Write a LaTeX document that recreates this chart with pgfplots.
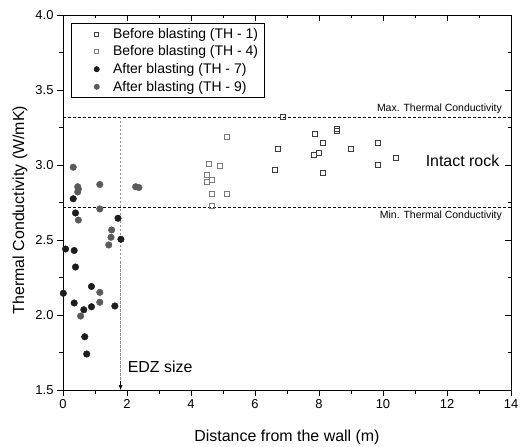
\documentclass[border=0pt]{standalone}
\usepackage{fontspec}
\setmainfont{Liberation Sans}
\usepackage{pgfplots}
\pgfplotsset{compat=1.18}
\usetikzlibrary{arrows.meta}

\definecolor{thone}{HTML}{3C3C3C}
\definecolor{thfour}{HTML}{7A7A7A}
\definecolor{thseven}{HTML}{1C1C1C}
\definecolor{thnine}{HTML}{5A5A5A}

\pgfplotsset{
  common/.style={
    at={(0,0)}, anchor=south west,
    scale only axis, width=448bp, height=375bp,
    xmin=0, xmax=14, ymin=1.5, ymax=4.0,
    xtick={0,2,4,6,8,10,12,14}, minor xtick={1,3,5,7,9,11,13},
    ytick={1.5,2,2.5,3,3.5,4}, minor ytick={1.75,2.25,2.75,3.25,3.75},
    major tick length=6bp, minor tick length=3.5bp,
    axis line style={-, line width=0.9bp, black},
    every tick/.style={black, line width=0.8bp},
  },
  legmark/.style={legend image code/.code={\path[##1] plot coordinates {(22bp,0bp)};\path (0bp,0bp) (33bp,0bp);}},
}

\begin{document}
\begin{tikzpicture}
\useasboundingbox (-63bp,-57bp) rectangle (458bp,390bp);
% top/right ticks (inside)
\begin{axis}[common,
  axis x line*=top, axis y line*=right,
  tick align=inside,
  xticklabels={}, yticklabels={},
]
\end{axis}
\begin{axis}[common,
  axis x line*=bottom, axis y line*=left,
  tick align=outside,
  /pgf/number format/assume math mode=true,
  yticklabel style={/pgf/number format/.cd, fixed, fixed zerofill, precision=1},
  tick label style={font=\fontsize{13}{15}\selectfont},
  label style={font=\fontsize{16}{18}\selectfont},
  xlabel={Distance from the wall (m)},
  ylabel={Thermal Conductivity (W/mK)},
  xlabel style={at={(axis description cs:0.5,-0.127)}, anchor=center},
  ylabel style={at={(axis description cs:-0.096,0.48)}, anchor=center},
  legend cell align=left,
  legend style={at={(axis description cs:0.018,0.979)}, anchor=north west,
    draw=black, line width=0.7bp,
    nodes={inner ysep=3bp, inner xsep=3bp, font=\fontsize{14}{16.5}\selectfont}, row sep=0bp,
    /tikz/every odd column/.style={column sep=2bp}},
]
\addlegendimage{legmark, only marks, mark=square, mark size=2bp, mark options={draw=thone, fill=white, line width=0.6bp}}
\addlegendentry{Before blasting (TH - 1)}
\addlegendimage{legmark, only marks, mark=square, mark size=2bp, mark options={draw=thfour, fill=white, line width=0.6bp}}
\addlegendentry{Before blasting (TH - 4)}
\addlegendimage{legmark, only marks, mark=*, mark size=2.6bp, mark options={draw=thseven, fill=thseven}}
\addlegendentry{After blasting (TH - 7)}
\addlegendimage{legmark, only marks, mark=*, mark size=2.6bp, mark options={draw=thnine, fill=thnine}}
\addlegendentry{After blasting (TH - 9)}

% reference lines
\addplot[forget plot, black, line width=0.7bp, dash pattern=on 3bp off 2bp] coordinates {(0,3.32) (14,3.32)};
\addplot[forget plot, black, line width=0.7bp, dash pattern=on 3bp off 2bp] coordinates {(0,2.72) (14,2.72)};
\addplot[forget plot, color=gray!85, line width=1.1bp, dash pattern=on 2.5bp off 1.5bp] coordinates {(1.8,3.32) (1.8,1.53)};
\addplot[forget plot, black, line width=0.5bp, -{Latex[length=5bp,width=4bp]}] coordinates {(1.8,1.56) (1.8,1.5)};

% TH-1
\addplot[forget plot, only marks, mark=square, mark size=2.5bp, mark options={draw=thone, fill=white, line width=0.7bp}] coordinates {
(6.63,2.97) (6.71,3.11) (6.86,3.32) (7.86,3.21) (7.85,3.07) (8.0,3.08)
(8.13,3.145) (8.13,2.95) (8.56,3.24) (8.56,3.225) (8.98,3.11)
(9.85,3.15) (9.85,3.0) (10.41,3.045)
};
% TH-4
\addplot[forget plot, only marks, mark=square, mark size=2.5bp, mark options={draw=thfour, fill=white, line width=0.7bp}] coordinates {
(4.48,2.935) (4.48,2.89) (4.55,3.005) (4.66,2.90) (4.66,2.805) (4.66,2.727)
(4.89,2.993) (5.13,3.187) (5.13,2.805)
};
% TH-7
\addplot[forget plot, only marks, mark=*, mark size=3.3bp, mark options={draw=thseven, fill=thseven}] coordinates {
(0.32,2.775) (0.39,2.68) (1.72,2.645) (1.81,2.505) (0.08,2.44) (0.35,2.43)
(0.39,2.32) (0.01,2.145) (0.89,2.19) (0.35,2.08) (0.89,2.055) (0.65,2.035)
(1.62,2.06) (0.68,1.855) (0.74,1.74)
};
% TH-9
\addplot[forget plot, only marks, mark=*, mark size=3.3bp, mark options={draw=thnine, fill=thnine}] coordinates {
(0.32,2.985) (0.46,2.855) (0.48,2.84) (0.46,2.82) (1.15,2.87) (2.27,2.855)
(2.37,2.85) (0.48,2.633) (1.15,2.707) (1.52,2.567) (1.50,2.518) (1.43,2.467)
(1.15,2.151) (1.15,2.085) (0.55,1.993)
};

\node[anchor=south east, font=\fontsize{10.5}{12}\selectfont, inner sep=1bp] at (axis cs:13.75,3.335) {Max. Thermal Conductivity};
\node[anchor=north east, font=\fontsize{10.5}{12}\selectfont, inner sep=1bp] at (axis cs:13.75,2.70) {Min. Thermal Conductivity};
\node[anchor=west, font=\fontsize{16}{18}\selectfont, inner sep=0bp] at (axis cs:11.33,3.03) {Intact rock};
\node[anchor=west, font=\fontsize{16}{18}\selectfont, inner sep=0bp] at (axis cs:2.02,1.653) {EDZ size};
\end{axis}
\end{tikzpicture}
\end{document}
